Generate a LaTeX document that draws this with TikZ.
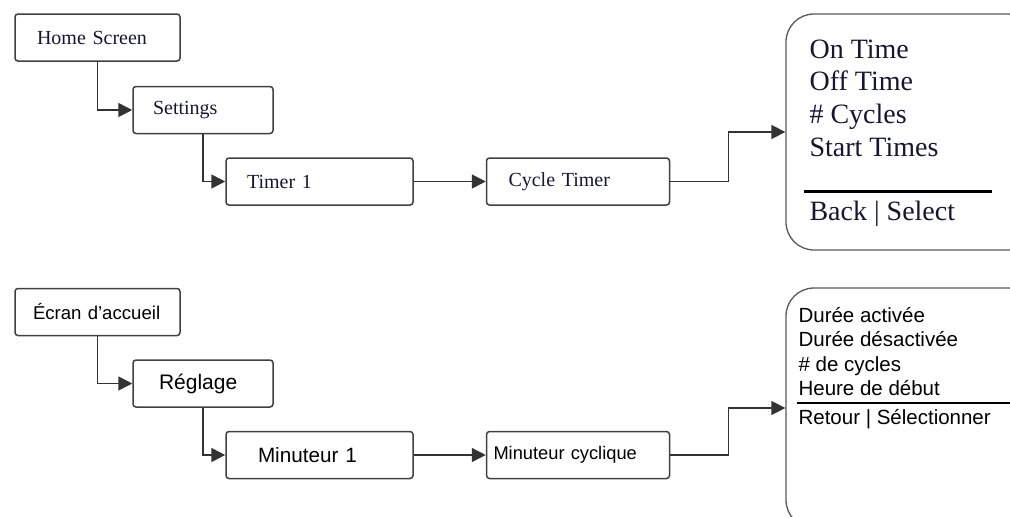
\documentclass[tikz,border=0pt]{standalone}
\usepackage{fontspec}
\setmainfont{Liberation Serif}
\newfontfamily\arialfont{Liberation Sans}
\usetikzlibrary{positioning,arrows.meta}
\definecolor{ink}{RGB}{22,22,50}
\newcommand\enbox{\fontsize{20}{24}\selectfont}
\newcommand\enmenu{\fontsize{28}{32.7}\selectfont}
\newcommand\frsize[1]{\arialfont\fontsize{#1}{24.3}\selectfont}

\begin{document}
\begin{tikzpicture}[
  x=1pt,y=-1pt,
  >={Triangle[length=14pt,width=14pt]},
  scr/.style={draw=black!75,line width=1.5pt,rounded corners=3pt,minimum height=47pt,inner ysep=0pt,align=left},
  menubox/.style={draw=black!65,line width=1.3pt,rounded corners=28pt,minimum width=250pt},
  menutxt/.style={inner sep=0pt,align=left,anchor=north west},
  link/.style={->,line width=1.5pt,black!80},
  rulebar/.style={line width=2.5pt,black},
]
\useasboundingbox (0,0) rectangle (1010,517);
\clip (0,0) rectangle (1010,517);

% English menu path
\node[scr,font=\enbox,text=ink,inner xsep=22pt,text width=121pt] (home) at (97.5,37.5) {Home Screen};
\node[scr,font=\enbox,text=ink,inner xsep=20pt,text width=100pt,
      below=24pt of home.south west,anchor=north west,xshift=118pt] (set) {Settings};
\node[scr,font=\enbox,text=ink,inner xsep=21pt,text width=145pt,
      below=23pt of set.south west,anchor=north west,xshift=93pt] (tim) {Timer 1};
\node[scr,font=\enbox,text=ink,inner xsep=22pt,text width=139pt,right=72pt of tim] (cyc) {Cycle Timer};

% screen shown by the cycle timer
\node[menubox,minimum height=236pt] (menu) at (911,132) {};
\node[menutxt,font=\enmenu,text=ink,below right=26pt and 24pt of menu.north west] (items)
  {On Time\\Off Time\\\# Cycles\\Start Times};
\draw[rulebar] ([xshift=19pt,yshift=-178pt]menu.north west) -- ++(188,0);
\node[menutxt,font=\enmenu,text=ink,below right=188pt and 24pt of menu.north west] (keys) {Back | Select};

\draw[link] (home.south) |- (set.west);
\draw[link] (set.south) |- (tim.west);
\draw[link] (tim) -- (cyc);
\draw[link] (cyc.east) -- ++(58,0) |- (menu.west);

% French menu path
\node[scr,font=\frsize{18.6},inner xsep=18pt,text width=129pt] (ecr) at (97.5,312) {Écran d’accueil};
\node[scr,font=\frsize{21},inner xsep=26pt,text width=88pt,
      below=23pt of ecr.south west,anchor=north west,xshift=118pt] (reg) {Réglage};
\node[scr,font=\frsize{20.7},inner xsep=32pt,text width=123pt,
      below=23pt of reg.south west,anchor=north west,xshift=93pt] (minu) {Minuteur 1};
\node[scr,font=\frsize{18.3},inner xsep=7pt,text width=169pt,right=72pt of minu] (mcy) {Minuteur cyclique};

\node[menubox,minimum height=240pt] (menufr) at (911,408) {};
\node[menutxt,font=\frsize{20.5},below right=20pt and 13pt of menufr.north west] (itemsfr)
  {Durée activée\\Durée désactivée\\\# de cycles\\Heure de début};
\draw[line width=2pt,black] ([xshift=12pt,yshift=-116pt]menufr.north west) -- ++(240,0);
\node[menutxt,font=\frsize{20.5},below right=122pt and 13pt of menufr.north west] (keysfr) {Retour | Sélectionner};

\draw[link] (ecr.south) |- (reg.west);
\draw[link] (reg.south) |- (minu.west);
\draw[link] (minu) -- (mcy);
\draw[link] (mcy.east) -- ++(58,0) |- (menufr.west);
\end{tikzpicture}
\end{document}
